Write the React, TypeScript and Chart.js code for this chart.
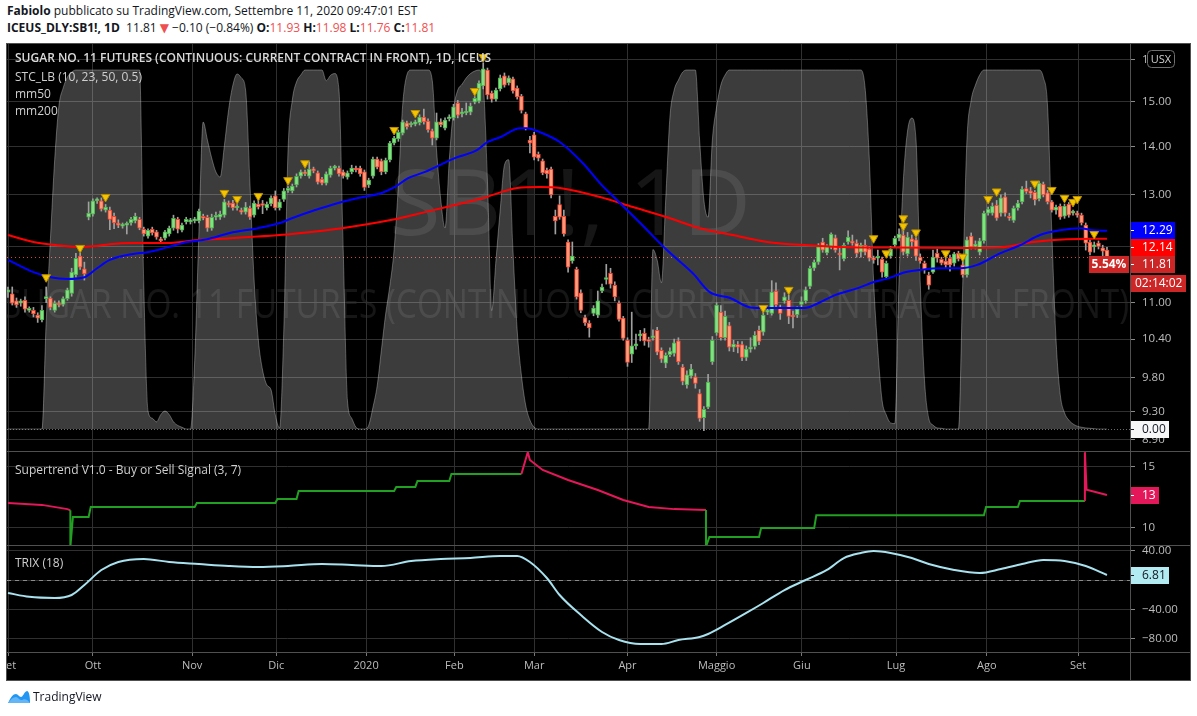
import React, { useEffect, useRef } from 'react';
import { Chart, registerables } from 'chart.js';

Chart.register(...registerables);

const FONT = '"Open Sans", "Noto Sans", "DejaVu Sans", sans-serif';

// ---------------- data ----------------
const monthIdx = [0, 20, 43.4, 63.2, 84.4, 105.2, 124, 146, 167, 187.1, 209.3, 230.7, 252.2];
const monthLabels = ['Set', 'Ott', 'Nov', 'Dic', '2020', 'Feb', 'Mar', 'Apr', 'Maggio', 'Giu', 'Lug', 'Ago', 'Set'];

const priceTicks = [8.9, 9.3, 9.8, 10.4, 11, 12, 13, 14, 15, 16];
const stTicks = [10, 15];
const trixTicks = [-80, -40, 0, 40];

const opens = [
  11.18, 11.15, 11.03, 10.99, 11.04, 10.87, 10.87, 10.79, 10.71, 11.07,
  11.08, 10.87, 10.99, 10.97, 11.07, 11.16, 11.48, 11.82, 11.59, 12.55,
  12.61, 12.87, 12.87, 12.69, 12.69, 12.57, 12.44, 12.38, 12.40, 12.44,
  12.48, 12.51, 12.32, 12.19, 12.32, 12.27, 12.13, 12.15, 12.23, 12.34,
  12.51, 12.30, 12.46, 12.46, 12.48, 12.48, 12.57, 12.55, 12.34, 12.55,
  12.55, 12.59, 12.83, 12.83, 12.73, 12.69, 12.65, 12.73, 12.59, 12.81,
  12.80, 12.73, 12.81, 12.97, 12.73, 12.90, 13.08, 13.07, 13.19, 13.37,
  13.46, 13.37, 13.52, 13.44, 13.31, 13.23, 13.39, 13.54, 13.54, 13.46,
  13.35, 13.46, 13.54, 13.54, 13.46, 13.19, 13.37, 13.73, 13.69, 13.46,
  13.71, 14.07, 14.16, 14.29, 14.52, 14.47, 14.49, 14.52, 14.65, 14.56,
  14.34, 14.18, 14.54, 14.40, 14.61, 14.63, 14.97, 14.72, 14.74, 14.76,
  14.99, 15.01, 15.37, 15.75, 15.20, 15.06, 15.30, 15.61, 15.44, 15.54,
  15.32, 15.13, 14.72, 14.14, 14.25, 13.83, 13.69, 13.50, 13.52, 12.57,
  12.80, 12.57, 12.08, 11.73, 11.58, 11.17, 10.75, 10.66, 10.82, 10.79,
  11.20, 11.40, 11.51, 11.30, 10.99, 10.74, 10.38, 10.16, 10.29, 10.45,
  10.49, 10.38, 10.42, 10.54, 10.22, 10.02, 10.15, 10.17, 10.37, 9.96,
  9.69, 9.82, 9.81, 9.56, 9.21, 9.36, 10.04, 10.50, 10.84, 10.42,
  10.62, 10.27, 10.31, 10.31, 10.11, 10.24, 10.28, 10.54, 10.51, 10.84,
  10.82, 11.20, 10.92, 11.03, 11.04, 10.79, 10.80, 10.97, 11.03, 11.28,
  11.60, 11.71, 12.08, 11.88, 11.99, 12.16, 11.87, 11.77, 12.08, 12.08,
  12.06, 11.89, 12.02, 11.95, 11.78, 11.78, 11.76, 11.45, 11.82, 12.03,
  12.15, 12.21, 11.86, 12.14, 12.12, 11.80, 11.69, 11.48, 11.53, 11.87,
  11.76, 11.73, 11.78, 11.69, 11.87, 11.66, 11.48, 12.19, 12.00, 11.89,
  12.10, 12.63, 12.63, 12.79, 12.63, 12.95, 12.57, 12.49, 12.73, 12.85,
  13.12, 13.07, 13.04, 12.91, 13.21, 13.03, 12.85, 12.69, 12.77, 12.57,
  12.81, 12.63, 12.63, 12.59, 12.40, 12.08, 11.99, 12.06, 11.97, 11.93,
];
const highs = [
  11.27, 11.27, 11.08, 11.06, 11.10, 10.93, 10.92, 10.83, 10.95, 11.27,
  11.10, 11.03, 11.03, 11.10, 11.25, 11.60, 11.87, 11.87, 11.71, 12.85,
  12.91, 12.93, 12.93, 12.80, 12.75, 12.63, 12.50, 12.44, 12.46, 12.55,
  12.63, 12.55, 12.36, 12.33, 12.36, 12.30, 12.17, 12.30, 12.38, 12.59,
  12.55, 12.44, 12.55, 12.53, 12.55, 12.71, 12.61, 12.59, 12.61, 12.65,
  12.67, 12.90, 12.87, 12.88, 12.80, 12.73, 12.84, 12.77, 12.87, 12.95,
  12.88, 12.85, 12.97, 13.07, 12.90, 13.12, 13.16, 13.21, 13.42, 13.50,
  13.50, 13.67, 13.56, 13.48, 13.35, 13.46, 13.58, 13.60, 13.58, 13.50,
  13.48, 13.60, 13.58, 13.58, 13.50, 13.33, 13.77, 13.77, 13.73, 13.75,
  14.11, 14.22, 14.36, 14.58, 14.56, 14.54, 14.58, 14.70, 14.83, 14.61,
  14.38, 14.74, 14.61, 14.63, 14.70, 14.94, 15.03, 14.85, 14.97, 14.97,
  15.12, 15.49, 15.93, 15.80, 15.25, 15.32, 15.63, 15.68, 15.61, 15.58,
  15.37, 15.17, 14.76, 14.22, 14.31, 13.88, 13.73, 13.54, 13.56, 12.69,
  12.97, 12.69, 12.12, 12.08, 11.62, 11.22, 10.79, 10.70, 10.95, 11.20,
  11.32, 11.67, 11.60, 11.36, 11.03, 10.77, 10.42, 10.84, 10.48, 10.54,
  10.57, 10.43, 10.55, 10.59, 10.26, 10.18, 10.26, 10.40, 10.42, 10.00,
  9.90, 10.00, 9.86, 9.62, 9.37, 9.85, 10.44, 11.00, 10.95, 10.86,
  10.67, 10.38, 10.36, 10.36, 10.29, 10.42, 10.52, 10.61, 10.84, 10.90,
  11.38, 11.34, 10.96, 11.17, 11.13, 10.86, 10.93, 11.10, 11.27, 11.64,
  11.75, 12.05, 12.15, 12.03, 12.25, 12.21, 11.97, 12.06, 12.29, 12.21,
  12.12, 12.06, 12.12, 12.00, 11.82, 11.93, 11.80, 11.73, 12.00, 12.19,
  12.33, 12.31, 12.26, 12.21, 12.16, 11.86, 11.73, 11.53, 11.93, 11.95,
  11.80, 11.82, 11.84, 11.89, 11.91, 11.73, 12.17, 12.25, 12.10, 12.15,
  12.67, 12.75, 12.83, 12.88, 12.99, 13.03, 12.63, 12.77, 12.88, 13.16,
  13.27, 13.14, 13.08, 13.27, 13.25, 13.08, 12.88, 12.79, 12.81, 12.81,
  12.84, 12.69, 12.67, 12.63, 12.44, 12.12, 12.08, 12.10, 12.02, 11.98,
];
const lows = [
  11.09, 10.96, 10.92, 10.94, 10.84, 10.84, 10.76, 10.67, 10.68, 11.00,
  10.88, 10.84, 10.93, 10.94, 11.04, 11.11, 11.44, 11.58, 11.39, 12.50,
  12.57, 12.82, 12.67, 12.65, 12.31, 12.33, 12.35, 12.34, 12.23, 12.40,
  12.44, 12.31, 12.19, 12.15, 12.21, 12.13, 12.06, 12.12, 12.19, 12.30,
  12.25, 12.27, 12.42, 12.42, 12.44, 12.44, 12.50, 12.28, 12.30, 12.50,
  12.51, 12.55, 12.75, 12.69, 12.69, 12.61, 12.61, 12.51, 12.55, 12.71,
  12.62, 12.69, 12.77, 12.69, 12.69, 12.86, 13.04, 13.03, 13.15, 13.33,
  13.38, 13.33, 13.44, 13.21, 13.19, 13.19, 13.35, 13.50, 13.37, 13.33,
  13.31, 13.42, 13.46, 13.37, 13.08, 13.14, 13.33, 13.52, 13.40, 13.42,
  13.67, 14.03, 14.11, 14.25, 14.38, 14.43, 14.45, 14.47, 14.49, 14.31,
  14.03, 14.14, 14.43, 14.36, 14.56, 14.58, 14.63, 14.65, 14.70, 14.70,
  14.95, 14.97, 15.30, 15.06, 14.99, 15.01, 15.25, 15.34, 15.39, 15.20,
  15.06, 14.74, 14.36, 13.86, 13.71, 13.69, 13.40, 13.33, 12.93, 12.23,
  12.51, 12.19, 11.53, 11.69, 11.06, 10.83, 10.62, 10.43, 10.78, 10.75,
  11.17, 11.32, 11.25, 11.03, 10.69, 10.38, 9.97, 10.03, 10.24, 10.37,
  10.30, 10.27, 10.38, 10.15, 10.03, 9.95, 10.12, 10.13, 10.00, 9.69,
  9.64, 9.79, 9.64, 9.16, 9.03, 9.34, 10.00, 10.46, 10.38, 10.38,
  10.21, 10.20, 10.18, 10.06, 10.06, 10.19, 10.24, 10.31, 10.46, 10.80,
  10.79, 10.91, 10.72, 10.99, 10.65, 10.58, 10.75, 10.93, 10.99, 11.24,
  11.56, 11.67, 11.89, 11.84, 11.95, 11.89, 11.57, 11.73, 12.04, 12.02,
  11.80, 11.80, 11.84, 11.73, 11.69, 11.66, 11.44, 11.42, 11.78, 11.99,
  12.10, 11.84, 11.82, 11.99, 11.74, 11.69, 11.51, 11.23, 11.51, 11.71,
  11.66, 11.60, 11.55, 11.64, 11.73, 11.44, 11.44, 11.95, 11.95, 11.84,
  12.06, 12.59, 12.59, 12.49, 12.57, 12.57, 12.49, 12.45, 12.69, 12.81,
  13.02, 12.93, 12.79, 12.87, 12.95, 12.81, 12.65, 12.61, 12.51, 12.53,
  12.55, 12.59, 12.55, 12.40, 11.93, 11.84, 11.89, 11.95, 11.82, 11.76,
];
const closes = [
  11.22, 10.99, 10.96, 11.03, 10.89, 10.89, 10.81, 10.74, 10.87, 11.08,
  10.92, 10.99, 10.96, 11.07, 11.22, 11.53, 11.78, 11.62, 11.50, 12.63,
  12.87, 12.89, 12.71, 12.75, 12.51, 12.44, 12.40, 12.40, 12.42, 12.51,
  12.57, 12.34, 12.23, 12.30, 12.25, 12.17, 12.10, 12.27, 12.34, 12.53,
  12.32, 12.40, 12.51, 12.49, 12.51, 12.67, 12.53, 12.34, 12.55, 12.57,
  12.61, 12.85, 12.79, 12.73, 12.75, 12.65, 12.75, 12.55, 12.83, 12.75,
  12.78, 12.81, 12.93, 12.73, 12.85, 13.07, 13.10, 13.17, 13.37, 13.46,
  13.42, 13.52, 13.48, 13.25, 13.23, 13.42, 13.54, 13.55, 13.42, 13.37,
  13.44, 13.54, 13.50, 13.42, 13.14, 13.29, 13.73, 13.56, 13.46, 13.71,
  14.07, 14.18, 14.31, 14.54, 14.43, 14.49, 14.54, 14.65, 14.54, 14.36,
  14.18, 14.54, 14.47, 14.58, 14.63, 14.88, 14.69, 14.74, 14.76, 14.90,
  15.08, 15.44, 15.78, 15.16, 15.06, 15.27, 15.56, 15.39, 15.56, 15.25,
  15.11, 14.80, 14.40, 14.07, 13.77, 13.75, 13.44, 13.42, 12.99, 12.48,
  12.55, 12.23, 11.62, 11.82, 11.10, 10.87, 10.66, 10.58, 10.91, 11.03,
  11.27, 11.42, 11.32, 11.10, 10.72, 10.41, 10.03, 10.29, 10.32, 10.46,
  10.37, 10.36, 10.43, 10.19, 10.08, 10.14, 10.21, 10.34, 10.04, 9.74,
  9.84, 9.93, 9.71, 9.20, 9.33, 9.73, 10.38, 10.96, 10.42, 10.77,
  10.27, 10.32, 10.27, 10.11, 10.24, 10.26, 10.46, 10.36, 10.79, 10.86,
  11.18, 10.96, 10.82, 11.10, 10.77, 10.76, 10.89, 11.02, 11.22, 11.60,
  11.71, 11.99, 11.93, 11.99, 12.23, 11.93, 11.84, 12.02, 12.17, 12.06,
  11.87, 12.02, 11.89, 11.78, 11.75, 11.80, 11.53, 11.69, 11.95, 12.15,
  12.23, 11.89, 12.17, 12.08, 11.82, 11.73, 11.57, 11.30, 11.80, 11.78,
  11.69, 11.66, 11.66, 11.86, 11.77, 11.48, 12.12, 11.99, 12.04, 12.10,
  12.63, 12.71, 12.77, 12.53, 12.93, 12.63, 12.53, 12.73, 12.83, 13.11,
  13.06, 13.02, 12.89, 13.23, 12.99, 12.85, 12.69, 12.75, 12.55, 12.77,
  12.59, 12.65, 12.59, 12.44, 12.06, 11.89, 12.02, 12.00, 11.91, 11.81,
];

// STC_LB oscillator (0..100), one value per bar
const stc = [
  0, 0, 0, 0, 0, 0, 0, 0, 0,
  30, 53, 75, 90, 95, 98, 99.4,
  100, 100, 100, 100, 100, 100, 100, 100, 100, 100, 100, 100, 100, 100, 100, 100,
  40, 5, 3, 2, 4, 5, 4, 2, 1, 0.5, 0, 0,
  19, 55, 85.5, 80.5, 75.5, 71.6, 70.2, 79, 89, 95.8, 98.9, 97.8, 94.4, 69, 41.5, 24.8, 16.4, 12.3, 10.9, 3.9, 0.3,
  27.6, 77.7, 91.6, 96.7, 98.6, 100, 100, 100, 100, 100, 97, 98.5, 99, 94.4, 50, 8, 3, 0.5, 0, 0,
  1, 6, 12, 22, 32, 40, 50, 68, 90, 98.6, 100, 100, 100, 100, 100,
  97, 77.7, 63.8, 56, 75, 89, 94.4, 96, 97.8, 99, 99.7, 100, 96, 69, 33, 47, 61, 73.5, 75, 50, 27.6, 15, 6.7, 2.5, 0.5,
  0, 0, 0, 0, 0, 0, 0, 0, 0, 0, 0, 0, 0, 0, 0, 0, 0, 0, 0, 0, 0, 0, 0, 0, 0, 0, 0,
  50, 47, 40.7, 63.8, 86.9, 94.4, 97.2, 99.4, 100, 100, 100, 80.5, 63.8, 59, 80.5, 89.7, 95.8, 98.6,
  100, 100, 100, 100, 100, 100, 100, 100, 100, 100, 100, 100, 100, 100, 100, 100,
  100, 100, 100, 100, 100, 100, 100, 100, 100, 100, 100, 100, 100, 100, 100, 100,
  95, 75, 41.5, 22, 8, 3.9, 1.7, 1.5, 41.5, 69, 83, 86.6, 80.5, 40.7, 13.6, 3, 1.1, 0.3, 0.2, 0, 0, 0, 0,
  40, 80.5, 91.6, 95.8, 98.6,
  100, 100, 100, 100, 100, 100, 100, 100, 100, 100, 100, 100, 100, 100,
  98, 90, 55, 24.8, 9.5, 4.5, 2.5, 1.4, 0.8, 0.5, 0.3, 0.2, 0.1, 0, 0, 0,
];

// moving averages, sampled along the curves (bar index, price)
const mm50Idx = [0, 6, 10, 14, 18, 21, 24, 29.5, 32.8, 37.5, 42.2, 46.9, 52.3, 58.9, 64.1, 66.9, 72.4, 77.8, 82.5, 88.1, 91.2, 94.3, 98.3, 105.3, 110.5, 112.9, 116, 120.7, 122.3, 125.4, 130.1, 135.5, 139.5, 143.5, 149, 155.3, 161.4, 165.4, 170.2, 174.9, 178.4, 187.8, 190.9, 194.9, 200.3, 204.3, 207.4, 211.4, 214.9, 219.7, 224.4, 228.4, 233.8, 238.5, 243.2, 247.9, 252.6, 255.7, 259];
const mm50Val = [11.75, 11.53, 11.44, 11.41, 11.44, 11.60, 11.75, 11.86, 11.89, 11.98, 12.08, 12.13, 12.25, 12.34, 12.44, 12.53, 12.69, 12.83, 12.93, 13.03, 13.15, 13.33, 13.46, 13.75, 13.92, 14.09, 14.20, 14.40, 14.40, 14.31, 14.09, 13.64, 13.23, 12.89, 12.44, 11.93, 11.51, 11.18, 11.08, 10.92, 10.91, 10.91, 10.99, 11.13, 11.25, 11.36, 11.42, 11.53, 11.57, 11.60, 11.60, 11.66, 11.87, 12.02, 12.21, 12.30, 12.34, 12.30, 12.29];
const mm200Idx = [0, 6, 11.5, 16.3, 20, 24, 29.5, 37.5, 45.3, 52.3, 66.9, 78.7, 90.5, 98.3, 105.3, 112, 120, 125.4, 130.1, 139.5, 147.3, 155.3, 163.1, 170.9, 178.9, 188.5, 200.3, 208.3, 226, 233.8, 241.6, 249.6, 259];
const mm200Val = [12.21, 12.08, 12.02, 11.99, 12.00, 12.04, 12.06, 12.06, 12.12, 12.15, 12.23, 12.34, 12.50, 12.65, 12.79, 12.93, 13.13, 13.15, 13.13, 12.95, 12.75, 12.55, 12.34, 12.21, 12.08, 12.02, 11.98, 11.98, 11.97, 11.98, 12.08, 12.13, 12.14];

// yellow down-triangle signals
const sigIdx = [9, 17, 23, 51, 54, 59, 66, 70, 91, 96, 110, 112, 178, 184, 204, 207, 211, 211, 214, 221, 225, 231, 233, 242, 246, 249, 251, 252, 256];
const sigVal = [11.44, 11.97, 12.95, 13.03, 12.91, 12.97, 13.29, 13.64, 14.36, 14.74, 15.25, 16.07, 10.91, 11.22, 12.15, 11.87, 12.38, 12.53, 12.26, 11.87, 11.81, 12.91, 13.06, 13.22, 13.09, 12.93, 12.85, 12.91, 12.23];

// Supertrend (bar index, value, direction 1 = buy/green, -1 = sell/red)
const stIdx = [0, 8, 14, 14.7, 14.7, 15.3, 19, 19.5, 44, 44.5, 63, 63.5, 68, 68.5, 91, 91.5, 96, 96.5, 104, 104.5, 121, 122.5, 123, 126, 132, 139, 145, 151, 157, 164.5, 164.5, 165.3, 177, 177.5, 190, 190.5, 230, 230.5, 238, 238.5, 253.8, 253.8, 254.2, 259];
const stVal = [12.0, 11.85, 11.5, 11.4, 8.4, 10.85, 10.85, 11.67, 11.67, 12.0, 12.0, 12.33, 12.33, 13.0, 13.0, 13.33, 13.33, 13.82, 13.82, 14.4, 14.4, 16.2, 15.55, 14.73, 13.9, 13.08, 12.25, 11.67, 11.5, 11.43, 8.4, 9.2, 9.2, 9.94, 9.94, 11.0, 11.0, 11.67, 11.67, 12.17, 12.17, 16.2, 13.1, 12.66];
const stDir = [-1, -1, -1, -1, 1, 1, 1, 1, 1, 1, 1, 1, 1, 1, 1, 1, 1, 1, 1, 1, 1, -1, -1, -1, -1, -1, -1, -1, -1, -1, 1, 1, 1, 1, 1, 1, 1, 1, 1, 1, 1, -1, -1, -1];

// TRIX (18)
const trixIdx = [0, 5, 11, 15, 18, 22, 26, 32, 38, 45, 52, 59, 66, 74, 81, 88, 95, 102, 109, 116, 120, 123, 127, 130, 135, 140, 144, 149, 154, 158, 163, 165, 169, 174, 178, 183, 188, 193, 197, 201, 204, 208, 213, 217, 223, 229, 234, 239, 244, 249, 254, 259];
const trixVal = [-17.7, -23, -24.6, -20.5, -6.8, 13.6, 24.6, 28.7, 24.6, 21.8, 19.1, 17.7, 19.1, 21.8, 20.5, 19.1, 25.9, 28.7, 30, 32.8, 32.8, 24.6, 2.7, -20.5, -47.8, -71, -82, -87.4, -87.4, -82, -77.8, -73.7, -61.4, -45, -31.4, -13.7, 0, 13.7, 30, 36.9, 39.6, 36.9, 30, 21.8, 13.7, 9.6, 15, 21.8, 27.3, 25.9, 19.1, 6.81];

// ---------------- styling ----------------
const X_MIN = -0.236;
const X_MAX = 264.43;
const AXIS_W = 60;
const GRID = '#303030';
const TICK_TXT = '#bdbdbd';
const SEP = '#505050';
const UP_FILL = '#86df86';
const UP_LINE = '#45b045';
const DN_FILL = '#ff9c7c';
const DN_LINE = '#f2402e';
const ST_GREEN = '#22a022';
const ST_RED = '#e3175a';
const HDR_RED = '#ef4f4f';

function xScale(show: boolean): any {
  return {
    type: 'linear',
    position: 'bottom',
    min: X_MIN,
    max: X_MAX,
    bounds: 'data',
    offset: false,
    afterBuildTicks: (s: any) => { s.ticks = monthIdx.map((v) => ({ value: v })); },
    afterFit: (s: any) => { s.height = show ? 28 : 0; s.paddingLeft = 0; s.paddingRight = 0; },
    grid: { color: GRID, lineWidth: 1, drawTicks: show, tickLength: 4, tickColor: '#777', offset: false },
    border: { display: false },
    ticks: {
      display: show, color: TICK_TXT, font: { size: 11, family: FONT }, padding: 3,
      autoSkip: false, maxRotation: 0, minRotation: 0,
      callback: (_v: any, i: number) => monthLabels[i],
    },
  };
}

function yScale(type: string, min: number, max: number, ticks: number[], fmt: (v: number) => string): any {
  return {
    type,
    position: 'right',
    min,
    max,
    bounds: 'data',
    afterBuildTicks: (s: any) => { s.ticks = ticks.map((v) => ({ value: v })); },
    afterFit: (s: any) => { s.width = AXIS_W; s.paddingTop = 0; s.paddingBottom = 0; },
    grid: { color: GRID, drawTicks: true, tickLength: 5, tickColor: '#8a8a8a' },
    border: { display: false },
    ticks: { color: TICK_TXT, font: { size: 11.5, family: FONT }, padding: 7, autoSkip: false, callback: (v: any) => fmt(Number(v)) },
  };
}

function badge(ctx: CanvasRenderingContext2D, x: number, yc: number, w: number, bg: string, fg: string, text: string, textX?: number) {
  const h = 17;
  const top = Math.round(yc - h / 2);
  ctx.fillStyle = bg;
  ctx.fillRect(x, top, w, h);
  ctx.fillStyle = fg;
  ctx.fillRect(x, top + 8, 4, 1);
  ctx.font = `12px ${FONT}`;
  ctx.textBaseline = 'middle';
  ctx.textAlign = 'left';
  ctx.fillText(text, textX !== undefined ? textX : x + 12, top + h / 2 + 0.5);
}

function drawFitted(ctx: CanvasRenderingContext2D, text: string, size: number, cx: number, baseline: number, width: number) {
  ctx.font = `${size}px ${FONT}`;
  const w = ctx.measureText(text).width;
  ctx.save();
  ctx.translate(cx, baseline);
  ctx.scale(width / w, 1);
  ctx.textAlign = 'center';
  ctx.textBaseline = 'alphabetic';
  ctx.fillText(text, 0, 0);
  ctx.restore();
}

const baseOptions: any = {
  responsive: false,
  animation: false,
  devicePixelRatio: 1,
  events: [],
  layout: { padding: 0, autoPadding: false },
  plugins: { legend: { display: false }, tooltip: { enabled: false } },
};

const mainDecor = {
  id: 'mainDecor',
  beforeDraw(chart: any) {
    const { ctx, chartArea: a } = chart;
    ctx.save();
    ctx.beginPath();
    ctx.rect(a.left, a.top, a.right - a.left, a.bottom - a.top);
    ctx.clip();
    ctx.fillStyle = 'rgba(255,255,255,0.085)';
    drawFitted(ctx, 'SB1!, 1D', 92, 563, 191, 362);
    drawFitted(ctx, 'SUGAR NO. 11 FUTURES (CONTINUOUS: CURRENT CONTRACT IN FRONT)', 40, 559, 274, 1126);
    ctx.restore();
  },
  beforeDatasetsDraw(chart: any) {
    const { ctx, chartArea: a, scales } = chart;
    ctx.save();
    ctx.lineWidth = 1;
    const yc = Math.round(scales.y.getPixelForValue(closes[closes.length - 1])) + 0.5;
    ctx.strokeStyle = '#e04040';
    ctx.setLineDash([1, 3]);
    ctx.beginPath(); ctx.moveTo(a.left, yc); ctx.lineTo(a.right, yc); ctx.stroke();
    const y0 = Math.round(scales.stc.getPixelForValue(0)) + 0.5;
    ctx.strokeStyle = '#6a6a6a';
    ctx.setLineDash([1, 2]);
    ctx.beginPath(); ctx.moveTo(a.left, y0); ctx.lineTo(a.right, y0); ctx.stroke();
    ctx.restore();
  },
  afterDraw(chart: any) {
    const { ctx, chartArea: a, scales } = chart;
    const x0 = a.right;
    const m50 = mm50Val[mm50Val.length - 1];
    const m200 = mm200Val[mm200Val.length - 1];
    const cl = closes[closes.length - 1];
    const yb = scales.y.getPixelForValue(m50);
    const yr = Math.max(scales.y.getPixelForValue(m200), yb + 17);
    const yc = Math.max(scales.y.getPixelForValue(cl), yr + 17);
    ctx.save();
    // USX box
    ctx.fillStyle = '#000';
    ctx.strokeStyle = '#6f6f6f';
    ctx.lineWidth = 1;
    ctx.beginPath();
    (ctx as any).roundRect(x0 + 17.5, 6.5, 27, 17, 4);
    ctx.fill(); ctx.stroke();
    ctx.fillStyle = '#d0d0d0';
    ctx.font = `11px ${FONT}`;
    ctx.textAlign = 'center'; ctx.textBaseline = 'middle';
    ctx.fillText('USX', x0 + 31, 15.5);
    badge(ctx, x0, yb, 45, '#0000ff', '#ffffff', m50.toFixed(2));
    badge(ctx, x0, yr, 45, '#ff0000', '#ffffff', m200.toFixed(2));
    badge(ctx, x0, yc, 45, '#cc2626', '#ffffff', cl.toFixed(2));
    // percent box left of axis
    ctx.fillStyle = '#cc2626';
    ctx.fillRect(x0 - 41, Math.round(yc - 8.5), 40, 17);
    ctx.fillStyle = '#ffffff';
    ctx.font = `bold 12px ${FONT}`;
    ctx.textAlign = 'center';
    ctx.fillText('5.54%', x0 - 21, Math.round(yc - 8.5) + 9);
    // countdown
    ctx.fillStyle = '#cc2626';
    ctx.fillRect(x0 + 1, Math.round(yc + 10), 55, 17);
    ctx.fillStyle = '#ffffff';
    ctx.font = `12px ${FONT}`;
    ctx.textAlign = 'left';
    ctx.fillText('02:14:02', x0 + 5, Math.round(yc + 10) + 9);
    // STC zero badge
    const ys = scales.stc.getPixelForValue(stc[stc.length - 1]);
    badge(ctx, x0, ys, 39, '#f7f7f7', '#131722', '0.00');
    ctx.restore();
  },
};

const stDecor = {
  id: 'stDecor',
  afterDraw(chart: any) {
    const { ctx, chartArea: a, scales } = chart;
    const v = stVal[stVal.length - 1];
    ctx.save();
    badge(ctx, a.right, scales.y.getPixelForValue(v), 29, ST_RED, '#ffffff', String(Math.round(v)));
    ctx.restore();
  },
};

const trixDecor = {
  id: 'trixDecor',
  beforeDatasetsDraw(chart: any) {
    const { ctx, chartArea: a, scales } = chart;
    const y0 = Math.round(scales.y.getPixelForValue(0)) + 0.5;
    ctx.save();
    ctx.strokeStyle = '#8c8c8c';
    ctx.lineWidth = 1;
    ctx.setLineDash([4, 4]);
    ctx.beginPath(); ctx.moveTo(a.left, y0); ctx.lineTo(a.right, y0); ctx.stroke();
    ctx.restore();
  },
  afterDraw(chart: any) {
    const { ctx, chartArea: a, scales } = chart;
    const v = trixVal[trixVal.length - 1];
    ctx.save();
    badge(ctx, a.right, scales.y.getPixelForValue(v), 39, '#b2ebf2', '#131722', v.toFixed(2));
    ctx.restore();
  },
};

const fmtMinus = (v: number) => (v < 0 ? '\u2212' + Math.abs(v).toFixed(2) : v.toFixed(2));

export default function App() {
  const mainRef = useRef<HTMLCanvasElement>(null);
  const stRef = useRef<HTMLCanvasElement>(null);
  const trixRef = useRef<HTMLCanvasElement>(null);

  useEffect(() => {
    const charts: Chart[] = [];
    const up = opens.map((o, i) => closes[i] >= o);

    charts.push(new Chart(mainRef.current as HTMLCanvasElement, {
      type: 'bar',
      data: {
        datasets: [
          {
            type: 'line', label: 'STC_LB', yAxisID: 'stc',
            data: stc.map((v, i) => ({ x: i, y: v })),
            borderColor: 'rgba(255,255,255,0.30)', borderWidth: 1,
            backgroundColor: 'rgba(255,255,255,0.235)', fill: { value: 0 },
            pointRadius: 0, cubicInterpolationMode: 'monotone', order: 10,
          } as any,
          {
            type: 'bar', label: 'wick', yAxisID: 'y',
            data: lows.map((l, i) => ({ x: i, y: [l, highs[i]] })),
            backgroundColor: '#a0a0a0', barThickness: 1, grouped: false, order: 4,
          } as any,
          {
            type: 'bar', label: 'body', yAxisID: 'y',
            data: opens.map((o, i) => ({ x: i, y: [o, closes[i]] })),
            backgroundColor: up.map((u) => (u ? UP_FILL : DN_FILL)),
            borderColor: up.map((u) => (u ? UP_LINE : DN_LINE)),
            borderWidth: 1, borderSkipped: false, barThickness: 4, minBarLength: 2, grouped: false, order: 3,
          } as any,
          {
            type: 'line', label: 'mm200', yAxisID: 'y',
            data: mm200Idx.map((x, k) => ({ x, y: mm200Val[k] })),
            borderColor: '#ff0000', borderWidth: 2, pointRadius: 0, cubicInterpolationMode: 'monotone', order: 2,
          } as any,
          {
            type: 'line', label: 'mm50', yAxisID: 'y',
            data: mm50Idx.map((x, k) => ({ x, y: mm50Val[k] })),
            borderColor: '#0000ff', borderWidth: 2, pointRadius: 0, cubicInterpolationMode: 'monotone', order: 1,
          } as any,
          {
            type: 'line', label: 'signal', yAxisID: 'y',
            data: sigIdx.map((x, k) => ({ x, y: sigVal[k] })),
            showLine: false, pointStyle: 'triangle', rotation: 180, pointRadius: 5,
            pointBackgroundColor: '#f5c400', pointBorderColor: '#b88f00', pointBorderWidth: 1, order: 0,
          } as any,
        ],
      },
      options: {
        ...baseOptions,
        scales: {
          x: xScale(false),
          y: yScale('logarithmic', 8.7495, 16.397, priceTicks, (v) => v.toFixed(2)),
          stc: { type: 'linear', display: false, min: -6.128, max: 107.24 },
        },
      },
      plugins: [mainDecor],
    } as any));

    charts.push(new Chart(stRef.current as HTMLCanvasElement, {
      type: 'line',
      data: {
        datasets: [{
          label: 'Supertrend',
          data: stIdx.map((x, k) => ({ x, y: stVal[k] })),
          borderWidth: 2, pointRadius: 0, tension: 0,
          borderColor: ST_GREEN,
          segment: { borderColor: (c: any) => (stDir[c.p1DataIndex] > 0 ? ST_GREEN : ST_RED) },
        } as any],
      },
      options: {
        ...baseOptions,
        scales: {
          x: xScale(false),
          y: yScale('linear', 8.54, 16.213, stTicks, (v) => String(v)),
        },
      },
      plugins: [stDecor],
    } as any));

    charts.push(new Chart(trixRef.current as HTMLCanvasElement, {
      type: 'line',
      data: {
        datasets: [{
          label: 'TRIX',
          data: trixIdx.map((x, k) => ({ x, y: trixVal[k] })),
          borderColor: '#a8e2ee', borderWidth: 2, pointRadius: 0, cubicInterpolationMode: 'monotone',
        } as any],
      },
      options: {
        ...baseOptions,
        scales: {
          x: xScale(true),
          y: yScale('linear', -98.29, 46.42, trixTicks, fmtMinus),
        },
      },
      plugins: [trixDecor],
    } as any));

    return () => { charts.forEach((c) => c.destroy()); };
  }, []);

  const abs = (s: any) => ({ position: 'absolute', ...s }) as React.CSSProperties;
  const legend: React.CSSProperties = { position: 'absolute', left: 15, fontFamily: FONT, fontSize: 12, color: '#cfcfcf', whiteSpace: 'nowrap', lineHeight: '16px' };

  return (
    <div style={{ position: 'fixed', left: 0, top: 0, width: 1197, height: 716, background: '#ffffff', overflow: 'hidden', fontFamily: FONT }}>
      <div style={abs({ left: 7, top: 2, fontSize: 12, lineHeight: '17px', color: '#131722', whiteSpace: 'nowrap' })}>
        <b>Fabiolo</b> pubblicato su TradingView.com, Settembre 11, 2020 09:47:01 EST
      </div>
      <div style={abs({ left: 7, top: 19, fontSize: 12, lineHeight: '17px', color: '#131722', whiteSpace: 'nowrap' })}>
        <b>ICEUS_DLY:SB1!, 1D</b>&nbsp; 11.81 <span style={{ color: HDR_RED }}>▼</span> −0.10 (−0.84%) <b>O:</b><span style={{ color: HDR_RED }}>11.93</span> <b>H:</b><span style={{ color: HDR_RED }}>11.98</span> <b>L:</b><span style={{ color: HDR_RED }}>11.76</span> <b>C:</b><span style={{ color: HDR_RED }}>11.81</span>
      </div>

      <div style={abs({ left: 6, top: 43, width: 1185, height: 638, boxSizing: 'border-box', border: `1px solid ${SEP}`, background: '#000000' })} />

      <canvas ref={mainRef} width={1183} height={407} style={abs({ left: 7, top: 44, width: 1183, height: 407 })} />
      <canvas ref={stRef} width={1183} height={93} style={abs({ left: 7, top: 452, width: 1183, height: 93 })} />
      <canvas ref={trixRef} width={1183} height={134} style={abs({ left: 7, top: 546, width: 1183, height: 134 })} />

      <div style={abs({ left: 7, top: 451, width: 1183, height: 1, background: SEP })} />
      <div style={abs({ left: 7, top: 545, width: 1183, height: 1, background: SEP })} />
      <div style={abs({ left: 7, top: 652, width: 1183, height: 1, background: SEP })} />
      <div style={abs({ left: 1130, top: 44, width: 1, height: 636, background: SEP })} />

      <div style={{ ...legend, top: 50, fontWeight: 600, color: '#dadada' }}>SUGAR NO. 11 FUTURES (CONTINUOUS: CURRENT CONTRACT IN FRONT), 1D, ICEUS</div>
      <div style={{ ...legend, top: 69 }}>STC_LB (10, 23, 50, 0.5)</div>
      <div style={{ ...legend, top: 86 }}>mm50</div>
      <div style={{ ...legend, top: 103 }}>mm200</div>
      <div style={{ ...legend, top: 462 }}>Supertrend V1.0 - Buy or Sell Signal (3, 7)</div>
      <div style={{ ...legend, top: 555 }}>TRIX (18)</div>

      <svg width={24} height={18} style={abs({ left: 7, top: 688 })}>
        <path d="M1 15 C4 9 6 6 9 6 C11 6 12 9 14 9 C16 9 17 4 20 3 C22 3 23 8 23 15 Z" fill="#2196f3" />
        <path d="M1 15 C4 11 6 9 9 9 C11 9 12 12 14 12 C16 12 19 9 23 15 Z" fill="#64b5f6" />
      </svg>
      <div style={abs({ left: 33, top: 689, fontSize: 12, lineHeight: '16px', color: '#131722' })}>TradingView</div>
    </div>
  );
}
